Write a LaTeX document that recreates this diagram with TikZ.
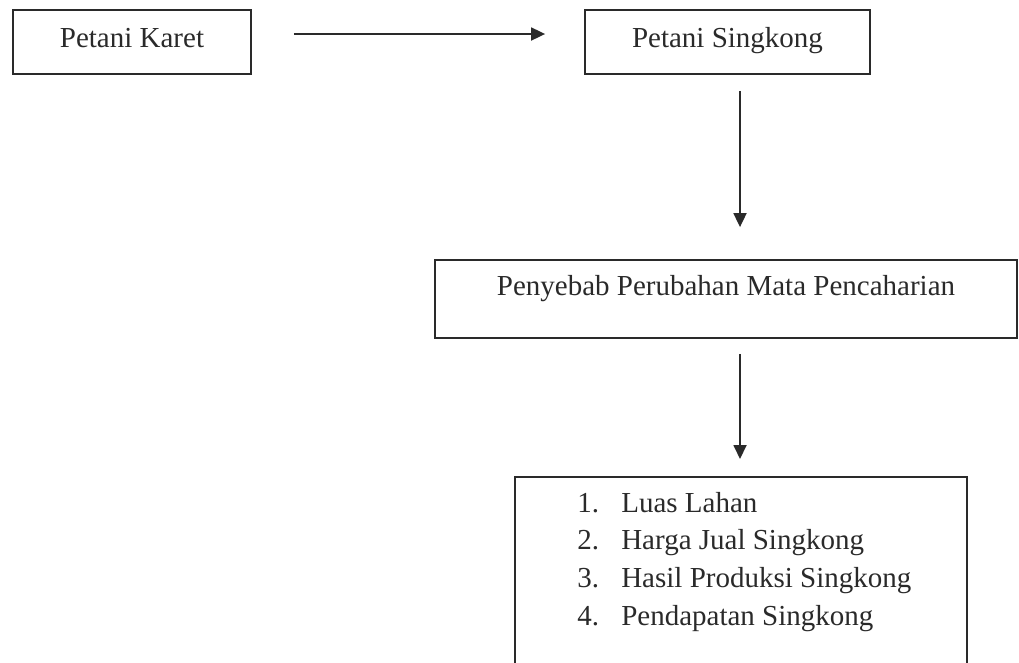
\documentclass[tikz,border=0pt]{standalone}
\usepackage{fontspec}
\setmainfont{Liberation Serif}
\usetikzlibrary{arrows.meta,calc}
\definecolor{ink}{HTML}{2A2A2A}
\tikzset{
  box/.style={draw=ink, line width=1.8pt, rectangle, inner sep=0pt, text=ink,
    font=\fontsize{29}{35}\selectfont},
  arr/.style={draw=ink, line width=1.8pt, -{Triangle[length=14pt,width=13pt]}},
}
\begin{document}
\begin{tikzpicture}[x=1pt,y=-1pt]
\useasboundingbox (0,0) rectangle (1019,662);
\clip (0,0) rectangle (1019,662);
\node[box, minimum width=238pt, minimum height=64pt, text height=20pt, text depth=10pt] (k) at (132,42) {Petani Karet};
\node[box, minimum width=285pt, minimum height=64pt, text height=20pt, text depth=10pt] (s) at (727.5,42) {Petani Singkong};
\node[box, minimum width=582pt, minimum height=78pt, text height=20pt, text depth=28pt] (p) at (726,299) {Penyebab Perubahan Mata Pencaharian};
\node[box, minimum width=452pt, minimum height=240pt, anchor=north] (f) at (741,476) {};
\node[anchor=base west, inner sep=0pt, text=ink, font=\fontsize{29}{37.7}\selectfont] (list) at ($(f.north west)+(63,36)$)
  {\begin{tabular}[t]{@{}p{44pt}@{}l@{}}
   1. & Luas Lahan\\
   2. & Harga Jual Singkong\\
   3. & Hasil Produksi Singkong\\
   4. & Pendapatan Singkong
   \end{tabular}};
\draw[arr, shorten <=42pt, shorten >=39pt] ([yshift=8pt]k.east) -- ([yshift=8pt]s.west);
\draw[arr, shorten <=16pt, shorten >=32pt] ([xshift=12.5pt]s.south) -- ([xshift=14pt]p.north);
\draw[arr, shorten <=15pt, shorten >=17pt] ([xshift=14pt]p.south) -- ([xshift=-1pt]f.north);
\end{tikzpicture}
\end{document}
